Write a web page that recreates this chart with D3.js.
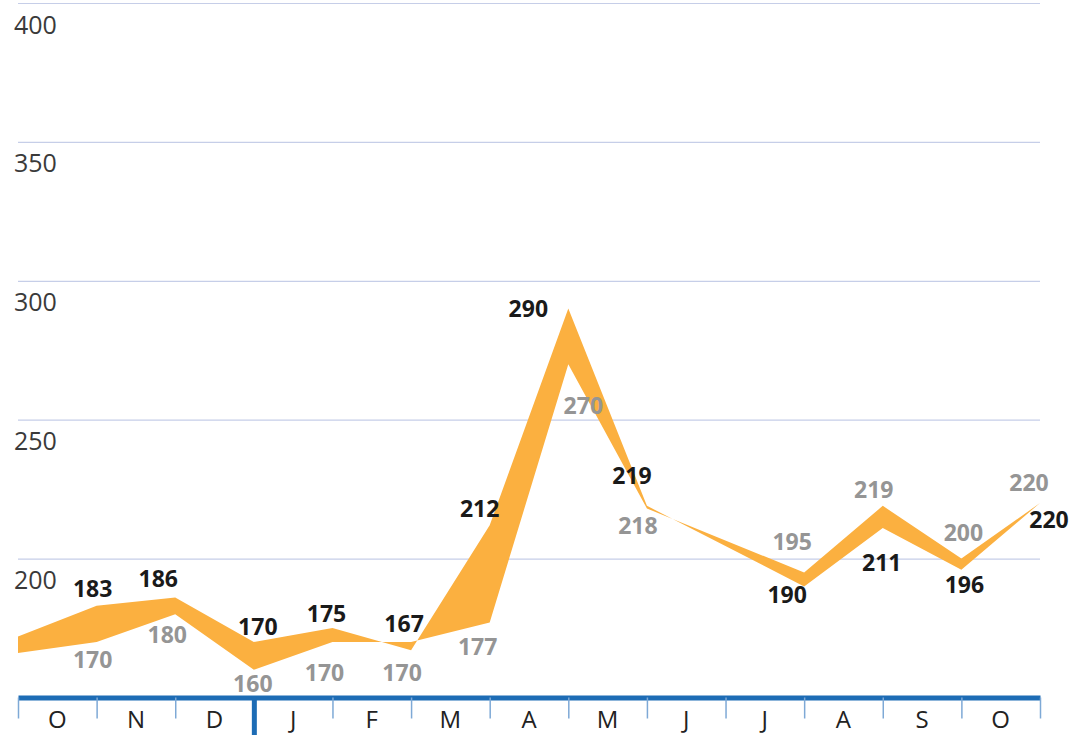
<!DOCTYPE html>
<html>
<head>
<meta charset="utf-8">
<script src="https://cdn.jsdelivr.net/npm/d3@7/dist/d3.min.js"></script>
<style>
  body { margin: 0; background: #fff; }
  svg { display: block; font-family: "Open Sans", "Noto Sans", sans-serif; }
</style>
</head>
<body>
<div id="chart"></div>
<script>
// month columns along the bottom
var months = ["O", "N", "D", "J", "F", "M", "A", "M", "J", "J", "A", "S", "O"];
// month-end boundary index of each point (end of June has no value)
var pointIndex = [0, 1, 2, 3, 4, 5, 6, 7, 8, 10, 11, 12, 13];
var blackVals = [172, 183, 186, 170, 175, 167, 212, 290, 219, 190, 211, 196, 220];
var grayVals  = [166, 170, 180, 160, 170, 170, 177, 270, 218, 195, 219, 200, 220];
var yTicks = [200, 250, 300, 350, 400];

// label offsets from their point (layout only)
var blackNudge = [null, [-4,-18], [-17,-19], [4,-16], [-6,-15], [-7,-27], [-10,-17], [-40,-1], [-15,-31], [-17,8], [-1,34], [3,14], [9,16]];
var grayNudge  = [null, [-4,17], [-8,20], [-1,13], [-8,30], [-9,30], [-12,24], [15,41], [-9,16], [-12,-31], [-9,-17], [2,-27], [-11,-21]];

var width = 1072, height = 735;
var svg = d3.select("#chart").append("svg").attr("width", width).attr("height", height);

var xScale = d3.scaleLinear().domain([0, months.length]).range([18, 1040]);
var yScale = d3.scaleLinear().domain([150, 400]).range([697.5, 3]);

// gridlines + y labels
var yAxis = svg.append("g")
    .attr("transform", "translate(" + xScale(0) + ",0)")
    .call(d3.axisLeft(yScale).tickValues(yTicks).tickSize(-(xScale(13) - xScale(0))).tickFormat(d3.format("d")));
yAxis.select(".domain").remove();
yAxis.selectAll(".tick line").attr("stroke", "#c6cee8").attr("stroke-width", 1.2);
yAxis.selectAll(".tick text")
    .attr("x", -4).attr("dy", 20)
    .attr("text-anchor", "start")
    .attr("dominant-baseline", "central")
    .attr("fill", "#3a3a3a")
    .attr("font-family", "'Open Sans', sans-serif")
    .attr("font-size", 25).attr("font-weight", 400);

var data = pointIndex.map(function(p, i){
    return {"pos": p, "black": blackVals[i], "gray": grayVals[i]};
});

var area = d3.area()
    .x(function(d){ return xScale(d.pos); })
    .y0(function(d){ return yScale(d.gray); })
    .y1(function(d){ return yScale(d.black); });

svg.append("path")
    .datum(data)
    .attr("d", area)
    .attr("fill", "#fbb040");

// value labels
svg.selectAll(".lblBlack")
    .data(data.filter(function(d, i){ return blackNudge[i]; }))
    .enter().append("text")
    .attr("class", "lblBlack")
    .attr("x", function(d){ return xScale(d.pos) + blackNudge[data.indexOf(d)][0]; })
    .attr("y", function(d){ return yScale(d.black) + blackNudge[data.indexOf(d)][1]; })
    .attr("text-anchor", "middle").attr("dominant-baseline", "central")
    .attr("font-size", 23).attr("font-weight", 700).attr("fill", "#1a1a1a")
    .text(function(d){ return d.black; });

svg.selectAll(".lblGray")
    .data(data.filter(function(d, i){ return grayNudge[i]; }))
    .enter().append("text")
    .attr("class", "lblGray")
    .attr("x", function(d){ return xScale(d.pos) + grayNudge[data.indexOf(d)][0]; })
    .attr("y", function(d){ return yScale(d.gray) + grayNudge[data.indexOf(d)][1]; })
    .attr("text-anchor", "middle").attr("dominant-baseline", "central")
    .attr("font-size", 23).attr("font-weight", 700).attr("fill", "#959595")
    .text(function(d){ return d.gray; });

// bottom axis
var axisY = yScale(150);
var xAxis = svg.append("g")
    .attr("transform", "translate(0," + axisY + ")")
    .call(d3.axisBottom(xScale).tickValues(d3.range(months.length + 1)).tickSize(21).tickSizeOuter(0).tickFormat(""));
xAxis.select(".domain").attr("stroke", "#1d6cb5").attr("stroke-width", 5);
xAxis.selectAll(".tick line")
    .attr("stroke", function(d){ return d === 3 ? "#1d6cb5" : "#7ea9d6"; })
    .attr("stroke-width", function(d){ return d === 3 ? 5 : 1.5; })
    .attr("y2", function(d){ return d === 3 ? 40 : 21; });

svg.selectAll(".month")
    .data(months)
    .enter().append("text")
    .attr("class", "month")
    .attr("x", function(d, i){ return xScale(i + 0.5); })
    .attr("y", 728)
    .attr("text-anchor", "middle")
    .attr("font-size", 24).attr("fill", "#222")
    .text(function(d){ return d; });
</script>
</body>
</html>
